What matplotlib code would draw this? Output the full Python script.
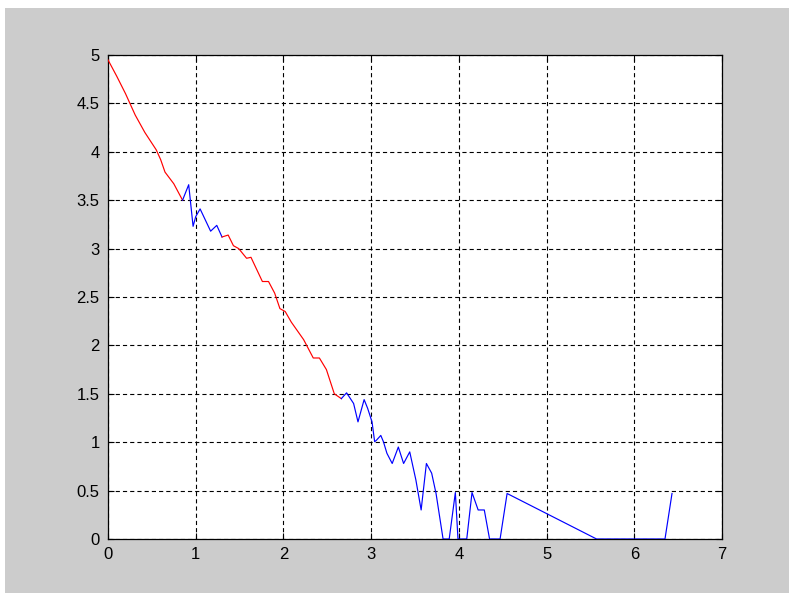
import matplotlib
matplotlib.use("Agg")
import matplotlib.pyplot as plt
from matplotlib.patches import Rectangle

# Data segments (single path drawn in alternating colours)
x_red1 = [0, 0.1, 0.2, 0.31, 0.42, 0.55, 0.6, 0.65, 0.75, 0.85]
y_red1 = [4.95, 4.78, 4.6, 4.38, 4.2, 4.02, 3.92, 3.79, 3.67, 3.50]

x_blue1 = [0.85, 0.92, 0.97, 1.0, 1.05, 1.17, 1.24, 1.30]
y_blue1 = [3.50, 3.66, 3.23, 3.33, 3.41, 3.18, 3.24, 3.12]

x_red2 = [1.30, 1.37, 1.43, 1.49, 1.58, 1.63, 1.76, 1.83, 1.90, 1.96, 2.02, 2.09,
          2.23, 2.34, 2.41, 2.49, 2.58, 2.66]
y_red2 = [3.12, 3.14, 3.03, 3.00, 2.90, 2.91, 2.66, 2.66, 2.54, 2.38, 2.35, 2.24,
          2.06, 1.87, 1.87, 1.75, 1.50, 1.45]

x_blue2 = [2.66, 2.72, 2.80, 2.85, 2.92, 2.96, 3.01, 3.04, 3.06, 3.11, 3.14, 3.18,
           3.24, 3.31, 3.37, 3.44, 3.51, 3.57, 3.63, 3.69, 3.74, 3.82, 3.89, 3.96,
           3.99, 4.09, 4.15, 4.22, 4.29, 4.35, 4.47, 4.55, 5.57, 6.35, 6.43]
y_blue2 = [1.45, 1.51, 1.40, 1.21, 1.44, 1.35, 1.21, 1.005, 1.02, 1.07, 1.005, 0.885,
           0.78, 0.95, 0.78, 0.90, 0.61, 0.30, 0.78, 0.68, 0.47, 0, 0, 0.48,
           0, 0, 0.48, 0.30, 0.30, 0, 0, 0.47, 0, 0, 0.47]

x_ticks = [0, 1, 2, 3, 4, 5, 6, 7]
y_ticks = [0, 0.5, 1, 1.5, 2, 2.5, 3, 3.5, 4, 4.5, 5]
y_ticklabels = ["0", "0.5", "1", "1.5", "2", "2.5", "3", "3.5", "4", "4.5", "5"]

plt.rcParams['font.family'] = ['Liberation Sans', 'DejaVu Sans']
plt.rcParams['lines.scale_dashes'] = False

W, H = 789, 595
fig = plt.figure(figsize=(W / 100, H / 100), dpi=100, facecolor='white')
# gray MATLAB-style background
fig.patches.append(Rectangle((5 / W, 2 / H), (W - 5) / W, (H - 10) / H,
                             transform=fig.transFigure, facecolor='#cccccc',
                             edgecolor='none', zorder=-10))

ax = fig.add_axes([108 / W, (H - 539) / H, (722 - 108) / W, (539 - 55) / H])
ax.set_zorder(1)
ax.set_facecolor('white')

lw = 0.85
ax.plot(x_red1, y_red1, color='#ff0000', lw=lw, zorder=3)
ax.plot(x_blue1, y_blue1, color='#0000ff', lw=lw, zorder=3)
ax.plot(x_red2, y_red2, color='#ff0000', lw=lw, zorder=3)
ax.plot(x_blue2, y_blue2, color='#0000ff', lw=lw, zorder=3)

ax.set_xlim(0, 7)
ax.set_ylim(0, 5)
ax.set_xticks(x_ticks)
ax.set_xticklabels([str(t) for t in x_ticks])
ax.set_yticks(y_ticks)
ax.set_yticklabels(y_ticklabels)

ax.grid(True, color='black', linestyle=(0, (3.0, 2.2)), linewidth=0.8, zorder=1)
ax.set_axisbelow(True)
ax.tick_params(direction='in', length=4.5, width=0.8, top=True, right=True,
               labelsize=12, colors='black', pad=6)
for s in ax.spines.values():
    s.set_linewidth(0.9)
    s.set_color('black')

fig.savefig('out.png', dpi=100, facecolor=fig.get_facecolor())
